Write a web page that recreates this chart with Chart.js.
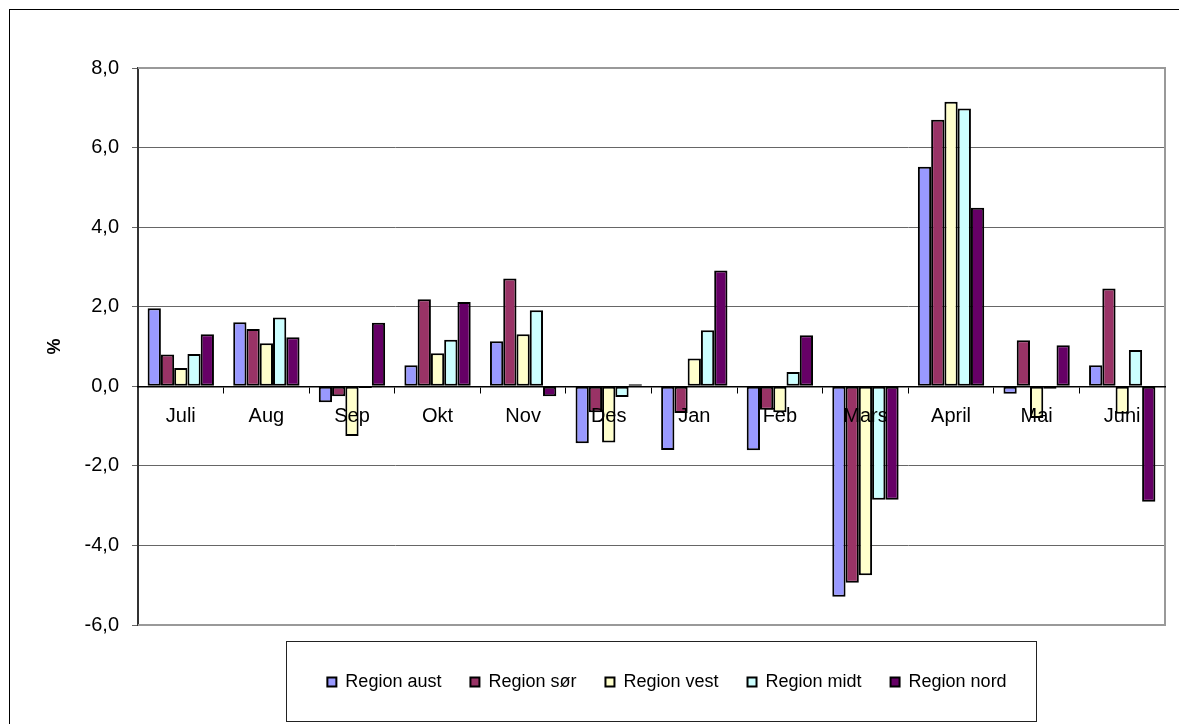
<!DOCTYPE html>
<html><head><meta charset="utf-8">
<script src="https://cdn.jsdelivr.net/npm/chart.js@4"></script>
<style>html,body{margin:0;padding:0;background:#fff;}#wrap{width:1179px;height:724px;}</style>
</head><body><div id="wrap"><canvas id="c" width="1179" height="724"></canvas></div>
<script>
const categories = ['Juli','Aug','Sep','Okt','Nov','Des','Jan','Feb','Mars','April','Mai','Juni'];
const seriesNames = ['Region aust','Region sør','Region vest','Region midt','Region nord'];
const regionAust = [1.96, 1.61, -0.40, 0.53, 1.13, -1.43, -1.60, -1.61, -5.29, 5.52, -0.19, 0.53];
const regionSor  = [0.80, 1.44, -0.25, 2.19, 2.71, -0.65, -0.67, -0.59, -4.94, 6.70, 1.16, 2.46];
const regionVest = [0.46, 1.08, -1.25, 0.83, 1.31, -1.41, 0.70, -0.65, -4.75, 7.15, -0.80, -0.69];
const regionMidt = [0.81, 1.73, -0.04, 1.17, 1.91, -0.27, 1.41, 0.36, -2.85, 6.98, -0.06, 0.91];
const regionNord = [1.31, 1.23, 1.60, 2.12, -0.25, 0.05, 2.91, 1.28, -2.85, 4.49, 1.03, -2.90];
const seriesColors = ['#9999FF','#993366','#FFFFCC','#CCFFFF','#660066'];
const yTicks = [-6, -4, -2, 0, 2, 4, 6, 8];
const yTitle = '%';

const FONT = 'Liberation Sans, Arial, sans-serif';
const seriesValues = [regionAust, regionSor, regionVest, regionMidt, regionNord];

const decor = {
  id: 'decor',
  beforeDraw(chart) {
    const ctx = chart.ctx;
    ctx.save(); ctx.fillStyle = '#fff'; ctx.fillRect(0, 0, chart.width, chart.height); ctx.restore();
  },
  afterLayout(chart) {
    const l = chart.legend;
    const dx = 667 - (l.left + l.right) / 2;
    l.left += dx; l.right += dx;
    l.top += 19; l.bottom += 19;
  },
  beforeDatasetsDraw(chart) {
    const {ctx, chartArea: a} = chart;
    ctx.save();
    ctx.strokeStyle = '#999'; ctx.lineWidth = 2;
    ctx.beginPath();
    ctx.moveTo(a.left, a.top); ctx.lineTo(a.right, a.top); ctx.lineTo(a.right, a.bottom); ctx.lineTo(a.left, a.bottom);
    ctx.stroke();
    ctx.restore();
  },
  afterDraw(chart) {
    const ctx = chart.ctx;
    ctx.save();
    ctx.strokeStyle = '#000'; ctx.lineWidth = 1;
    ctx.strokeRect(9.5, 9.5, 1200, 800);
    ctx.strokeStyle = '#222';
    ctx.strokeRect(286.5, 641.5, 750, 80);
    ctx.restore();
  }
};

new Chart(document.getElementById('c'), {
  type: 'bar',
  data: {
    labels: categories,
    datasets: seriesNames.map((name, i) => ({
      label: name,
      data: seriesValues[i],
      backgroundColor: seriesColors[i],
      borderColor: '#000',
      borderWidth: 2,
      borderSkipped: false,
      barPercentage: 1.0,
      categoryPercentage: 0.775
    }))
  },
  options: {
    responsive: false,
    animation: false,
    layout: { padding: { left: 10, right: 14, top: 68, bottom: 42 } },
    plugins: {
      legend: {
        position: 'bottom',
        fullSize: false,
        labels: { color: '#000', font: { family: FONT, size: 18 }, boxWidth: 9, boxHeight: 9, padding: 29 }
      },
      tooltip: { enabled: false }
    },
    scales: {
      x: {
        type: 'category',
        position: { y: 0 },
        offset: true,
        grid: { offset: true, drawOnChartArea: false, drawTicks: true, tickLength: 6, color: '#000', lineWidth: 1 },
        border: { display: true, color: '#000', width: 1.5, z: 1 },
        ticks: { color: '#000', font: { family: FONT, size: 20 }, padding: 12, maxRotation: 0, autoSkip: false, z: 1 }
      },
      y: {
        min: -6, max: 8,
        afterBuildTicks: s => { s.ticks = yTicks.map(v => ({ value: v })); },
        afterFit: s => { s.width = 128; },
        grid: { color: '#666', lineWidth: 1, drawTicks: true, tickLength: 6 },
        border: { display: true, color: '#333', width: 2 },
        ticks: { color: '#000', font: { family: FONT, size: 20 }, padding: 13,
                 callback: v => Number(v).toFixed(1).replace('.', ',') },
        title: { display: true, text: yTitle, color: '#000', font: { family: FONT, size: 18, weight: 'bold' }, padding: 34 }
      }
    }
  },
  plugins: [decor]
});
</script></body></html>
